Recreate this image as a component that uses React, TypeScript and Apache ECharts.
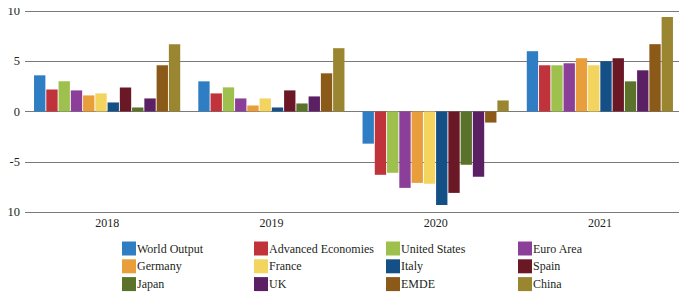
import React, { useEffect, useRef } from "react";
import * as echarts from "echarts";

const categories = ["2018", "2019", "2020", "2021"];
const seriesNames = [
  "World Output", "Advanced Economies", "United States", "Euro Area",
  "Germany", "France", "Italy", "Spain",
  "Japan", "UK", "EMDE", "China",
];
const worldOutput = [3.6, 3.0, -3.2, 6.0];
const advancedEconomies = [2.2, 1.8, -6.3, 4.6];
const unitedStates = [3.0, 2.4, -6.1, 4.6];
const euroArea = [2.1, 1.3, -7.6, 4.8];
const germany = [1.6, 0.6, -7.1, 5.3];
const france = [1.8, 1.3, -7.2, 4.6];
const italy = [0.9, 0.4, -9.3, 5.0];
const spain = [2.4, 2.1, -8.1, 5.3];
const japan = [0.4, 0.8, -5.3, 3.0];
const uk = [1.3, 1.5, -6.5, 4.1];
const emde = [4.6, 3.8, -1.1, 6.7];
const china = [6.7, 6.3, 1.1, 9.4];
const yTicks = { min: -10, max: 10, interval: 5 };

const allData = [
  worldOutput, advancedEconomies, unitedStates, euroArea,
  germany, france, italy, spain,
  japan, uk, emde, china,
];
const colors = [
  "#2F7DC2", "#C0333A", "#9DC14C", "#8C3F98",
  "#E89E3A", "#F3D45E", "#144F86", "#6B1826",
  "#5A7229", "#5A2063", "#8C5A18", "#9A8530",
];

const FONT = "Liberation Serif";
const TEXT = "#231f20";

export default function App() {
  const ref = useRef<HTMLDivElement>(null);
  useEffect(() => {
    if (!ref.current) return;
    const chart = echarts.init(ref.current, null, { renderer: "svg" });
    const colX = [122, 254, 386, 518];
    const legends = colX.map((x, c) => ({
      orient: "vertical",
      left: x,
      top: 241.5,
      itemWidth: 14,
      itemHeight: 14,
      itemGap: 3.8,
      padding: 0,
      icon: "rect",
      selectedMode: false,
      data: [0, 1, 2].map((r) => seriesNames[r * 4 + c]),
      textStyle: {
        fontFamily: FONT,
        fontSize: 12,
        color: TEXT,
        padding: [0, 0, 0, -4],
      },
    }));
    chart.setOption({
      animation: false,
      color: colors,
      textStyle: { fontFamily: FONT },
      grid: {
        left: 25, right: 5, top: 11, bottom: 93,
        containLabel: false, outerBoundsMode: "none",
      },
      legend: legends,
      xAxis: {
        type: "category",
        data: categories,
        axisLine: { show: false, onZero: false },
        axisTick: { show: false },
        axisLabel: { fontFamily: FONT, fontSize: 12, color: TEXT, margin: 5 },
      },
      yAxis: {
        type: "value",
        min: yTicks.min,
        max: yTicks.max,
        interval: yTicks.interval,
        axisLine: { show: false },
        axisTick: { show: false },
        axisLabel: {
          fontFamily: FONT,
          fontSize: 12.5,
          color: TEXT,
          margin: 5,
          hideOverlap: false,
          formatter: (v: number) => (v < 0 ? "-" + Math.abs(v) : String(v)),
        },
        splitLine: { lineStyle: { color: "#7a7a7a", width: 1 } },
      },
      series: seriesNames.map((name, i) => ({
        name,
        type: "bar",
        data: allData[i],
        barCategoryGap: "11%",
        barGap: "8%",
      })),
    });
    return () => chart.dispose();
  }, []);
  return <div ref={ref} style={{ width: 687, height: 305, margin: -8 }} />;
}
